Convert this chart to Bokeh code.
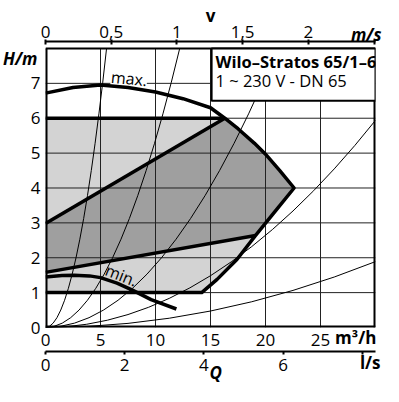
from bokeh.plotting import figure
from bokeh.models import Range1d, LinearAxis, FixedTicker
from bokeh.embed import file_html
from bokeh.resources import INLINE
from bokeh.core.properties import value

FONT = "Open Sans"

# ---- axes / ticks ----
q_ticks = [0, 5, 10, 15, 20, 25]          # m3/h
h_ticks = [0, 1, 2, 3, 4, 5, 6, 7]        # m
v_ticks = [0, 0.5, 1, 1.5, 2, 2.5]        # m/s
v_labels = ["0", "0,5", "1", "1,5", "2", ""]
ls_ticks = [0, 2, 4, 6, 8]                # l/s
ls_labels = ["0", "2", "4", "6", ""]
Q_MAX = 30.0
H_MAX = 8.0
V_MAX = 2.511          # flow velocity at Q_MAX
LS_MAX = 30.0 / 3.6    # l/s at Q_MAX

# unit labels: text and where they sit on their axis
h_unit = ("H/m", 7.7)
q_unit = ("m³/h", 28.2)
v_unit = ("m/s", 2.44)
ls_unit = ("l/s", 8.2)
q_name = ("Q", 4.3)     # on the l/s scale

# ---- pump curves (Q m3/h, H m) ----
max_q = [0, 2.5, 5, 7.5, 10, 12.5, 15, 16.3, 17.5, 19, 20, 21.3, 22.6]
max_h = [6.72, 6.88, 6.95, 6.88, 6.75, 6.56, 6.3, 6.0, 5.7, 5.28, 4.97, 4.5, 4.0]
edge_q = [22.6, 20.8, 19.1, 17.4, 15.6, 14.2]
edge_h = [4.0, 3.3, 2.64, 1.95, 1.38, 1.0]
min_q = [0, 1.5, 2.6, 4, 5, 6.5, 7.9, 9.6, 11.9]
min_h = [1.45, 1.49, 1.5, 1.48, 1.43, 1.27, 1.07, 0.8, 0.53]
top_q = [0, 16.3]
top_h = [6.0, 6.0]
bottom_q = [0, 14.2]
bottom_h = [1.0, 1.0]
upper_q = [0, 16.3]
upper_h = [2.98, 6.0]
lower_q = [0, 19.1]
lower_h = [1.58, 2.64]

# system curves: end points where they leave the chart
sys_end_q = [5.55, 12.2, 21.1, 30, 30]
sys_end_h = [8, 8, 8, 5.94, 1.89]

# title box
box_q = [15.1, 30]
box_h = [6.5, 8]
title1 = "Wilo–Stratos 65/1–6"
title2 = "1 ~ 230 V - DN 65"

p = figure(width=383, height=386, x_range=Range1d(0, Q_MAX), y_range=Range1d(0, 8.2),
           output_backend="svg", toolbar_location=None,
           min_border_left=0, min_border_right=8, min_border_top=0, min_border_bottom=0)
p.outline_line_color = None
p.grid.visible = False
p.background_fill_color = "white"
p.border_fill_color = "white"

# ---- fills ----
i6 = max_q.index(16.3)
light_x = bottom_q + edge_q[::-1] + max_q[::-1][:len(max_q) - i6] + [0]
light_y = bottom_h + edge_h[::-1] + max_h[::-1][:len(max_h) - i6] + [top_h[0]]
p.patch(light_x, light_y, fill_color="#d3d3d3", line_color=None)
dark_x = upper_q + max_q[i6 + 1:] + edge_q[1:3] + lower_q[::-1]
dark_y = upper_h + max_h[i6 + 1:] + edge_h[1:3] + lower_h[::-1]
p.patch(dark_x, dark_y, fill_color="#9f9f9f", line_color=None)

# ---- grid ----
gx = q_ticks[1:]
p.segment(x0=gx, y0=[0] * len(gx), x1=gx, y1=[H_MAX] * len(gx), line_color="#222222", line_width=1)
gy = h_ticks[1:]
p.segment(x0=[0] * len(gy), y0=gy, x1=[Q_MAX] * len(gy), y1=gy, line_color="#222222", line_width=1)

# ---- system curves (parabolas) ----
p.quadratic(x0=[0] * 5, y0=[0] * 5, x1=sys_end_q, y1=sys_end_h,
            cx=[q / 2 for q in sys_end_q], cy=[0] * 5, line_color="black", line_width=1)

# ---- labels on curves ----
p.text(x=[7.6], y=[7.14], text=["max."], text_font=value(FONT), text_font_size="16px",
       text_align="center", text_baseline="middle", angle=-0.1,
       background_fill_color="white", padding=0)
p.text(x=[6.9], y=[1.5], text=["min."], text_font=value(FONT), text_font_size="16px",
       text_align="center", text_baseline="middle", angle=-0.38)

# ---- thick curves ----
TW = 3.5
p.line(max_q + edge_q[1:] + bottom_q[::-1], max_h + edge_h[1:] + bottom_h[::-1],
       line_color="black", line_width=TW, line_join="round")
p.line(top_q, top_h, line_color="black", line_width=TW)
p.line(upper_q, upper_h, line_color="black", line_width=TW)
p.line(lower_q, lower_h, line_color="black", line_width=TW)
p.line(min_q, min_h, line_color="black", line_width=TW)

# ---- frame ----
p.segment(x0=[0, 0, Q_MAX], y0=[0, 0, 0], x1=[0, Q_MAX, Q_MAX], y1=[H_MAX, 0, H_MAX],
          line_color="black", line_width=4)
p.segment(x0=[0], y0=[H_MAX], x1=[Q_MAX], y1=[H_MAX], line_color="black", line_width=2)

# ---- title box ----
p.quad(left=[box_q[0]], right=[box_q[1]], bottom=[box_h[0]], top=[box_h[1]],
       fill_color="white", line_color="black", line_width=2)
p.text(x=[15.45], y=[7.62], text=[title1], text_font=value(FONT), text_font_size="16.5px",
       text_font_style="bold", text_baseline="middle")
p.text(x=[15.45], y=[7.08], text=[title2], text_font=value(FONT), text_font_size="16.5px",
       text_baseline="middle")

# ---- axes ----
LBL = "17px"


def style(ax, standoff, tick_out=0, tick_in=0, line=False, font_style="normal"):
    ax.major_label_text_font = FONT
    ax.major_label_text_font_size = LBL
    ax.major_label_text_font_style = font_style
    ax.major_label_standoff = standoff
    ax.major_label_text_color = "black"
    ax.minor_tick_line_color = None
    ax.major_tick_out = tick_out
    ax.major_tick_in = tick_in
    ax.axis_label_text_font = FONT
    ax.axis_label_text_font_size = LBL
    ax.axis_label_text_color = "black"
    if line:
        ax.axis_line_width = 2
        ax.major_tick_line_width = 2
    else:
        ax.axis_line_color = None
        ax.major_tick_line_color = None


def unit_axis(text, pos, **kw):
    return LinearAxis(ticker=FixedTicker(ticks=[pos]), major_label_overrides={pos: text}, **kw)


# left: H numbers + unit
ya = p.yaxis[0]
ya.ticker = FixedTicker(ticks=h_ticks)
style(ya, 5)
yu = unit_axis(*h_unit)
style(yu, -10, font_style="bold italic")
p.add_layout(yu, "left")

# bottom: Q m3/h numbers + unit
xa = p.xaxis[0]
xa.ticker = FixedTicker(ticks=q_ticks)
style(xa, 6)
xu = unit_axis(*q_unit)
style(xu, -23, font_style="bold")
p.add_layout(xu, "below")

p.extra_x_ranges = {"v": Range1d(0, V_MAX), "ls": Range1d(0, LS_MAX)}

# top: v m/s
ta = LinearAxis(x_range_name="v", ticker=FixedTicker(ticks=v_ticks),
                major_label_overrides=dict(zip(v_ticks, v_labels)))
style(ta, 2, tick_out=2, tick_in=3, line=True)
p.add_layout(ta, "above")
tu = unit_axis(*v_unit, x_range_name="v")
style(tu, -23, font_style="bold italic")
tu.axis_label = "v"
tu.axis_label_text_font_style = "bold"
tu.axis_label_standoff = -7
p.add_layout(tu, "above")

# bottom: Q l/s
ba = LinearAxis(x_range_name="ls", ticker=FixedTicker(ticks=ls_ticks),
                major_label_overrides=dict(zip(ls_ticks, ls_labels)))
style(ba, 4, tick_out=3, line=True)
p.add_layout(ba, "below")
bu = unit_axis(*ls_unit, x_range_name="ls")
style(bu, -23, font_style="bold")
p.add_layout(bu, "below")
bq = unit_axis(*q_name, x_range_name="ls")
style(bq, -16, font_style="bold italic")
p.add_layout(bq, "below")

open("out.html", "w").write(file_html(p, INLINE))
